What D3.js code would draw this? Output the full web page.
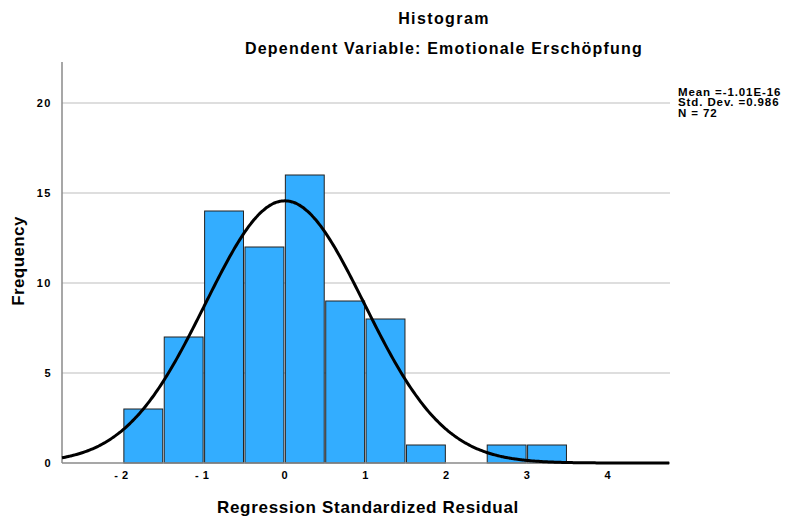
<!DOCTYPE html>
<html><head><meta charset="utf-8">
<script src="https://cdn.jsdelivr.net/npm/d3@7"></script>
<style>body{margin:0;background:#fff}text{font-family:"Liberation Sans",Arial,sans-serif;font-weight:bold;fill:#000}</style>
</head><body><svg id="c" width="785" height="521"></svg>
<script>
const binStarts = [-2, -1.5, -1, -0.5, 0, 0.5, 1, 1.5, 2, 2.5, 3];
const counts = [3, 7, 14, 12, 16, 9, 8, 1, 0, 1, 1];
const binWidth = 0.5;
const xTicks = [-2, -1, 0, 1, 2, 3, 4];
const yTicks = [0, 5, 10, 15, 20];
const stats = {mean: -1.01e-16, sd: 0.986, n: 72};
const legendLines = ["Mean =-1.01E-16", "Std. Dev. =0.986", "N = 72"];

const svg = d3.select("#c");
const L = 62, R = 670, T = 62, B = 463;
const x = d3.scaleLinear().domain([-2.76, 4.77]).range([L, R]);
const y = d3.scaleLinear().domain([0, 20]).range([B, 103]);

// grid
svg.append("g").selectAll("line").data(yTicks.filter(d => d > 0)).join("line")
  .attr("x1", L).attr("x2", R).attr("y1", d => y(d)).attr("y2", d => y(d))
  .attr("stroke", "#bdbdbd").attr("stroke-width", 1);

// bars
svg.append("g").selectAll("rect").data(binStarts.map((s, i) => ({s, c: counts[i]})).filter(d => d.c > 0)).join("rect")
  .attr("x", d => x(d.s) + 0.5).attr("width", d => x(d.s + binWidth) - x(d.s) - 1.5)
  .attr("y", d => y(d.c)).attr("height", d => y(0) - y(d.c))
  .attr("fill", "#33adff").attr("stroke", "#222").attr("stroke-width", 1);

// axes lines
svg.append("line").attr("x1", L).attr("x2", L).attr("y1", T).attr("y2", B).attr("stroke", "#8a8a8a").attr("stroke-width", 1.5);
svg.append("line").attr("x1", L).attr("x2", R).attr("y1", B).attr("y2", B).attr("stroke", "#8a8a8a").attr("stroke-width", 1.5);

// normal curve
const scaleF = stats.n * binWidth / (stats.sd * Math.sqrt(2 * Math.PI));
const xs = d3.range(-2.76, 4.77, 0.02);
const line = d3.line().x(d => x(d)).y(d => y(scaleF * Math.exp(-0.5 * Math.pow((d - stats.mean) / stats.sd, 2)))).curve(d3.curveBasis);
svg.append("path").datum(xs).attr("d", line).attr("fill", "none").attr("stroke", "#000").attr("stroke-width", 3);

// tick labels
svg.append("g").selectAll("text").data(yTicks).join("text")
  .attr("x", 52).attr("y", d => y(d) + 4).attr("text-anchor", "end")
  .attr("font-size", 11).attr("letter-spacing", 1.5).text(d => d);
svg.append("g").selectAll("text").data(xTicks).join("text")
  .attr("x", d => x(d) + (d < 0 ? -2 : 0)).attr("y", 479).attr("text-anchor", "middle")
  .attr("font-size", 11).attr("letter-spacing", 0.5).text(d => d < 0 ? "- " + Math.abs(d) : d);

// titles
svg.append("text").attr("x", 444).attr("y", 24).attr("text-anchor", "middle").attr("font-size", 16).attr("letter-spacing", 1.4).text("Histogram");
svg.append("text").attr("x", 444).attr("y", 54).attr("text-anchor", "middle").attr("font-size", 16).attr("letter-spacing", 1.2).text("Dependent Variable: Emotionale Erschöpfung");
svg.append("text").attr("x", 368).attr("y", 513).attr("text-anchor", "middle").attr("font-size", 17).attr("letter-spacing", 0.7).text("Regression Standardized Residual");
svg.append("text").attr("transform", "translate(24,261) rotate(-90)").attr("text-anchor", "middle").attr("font-size", 17).attr("letter-spacing", 0.4).text("Frequency");

// legend
svg.append("g").selectAll("text").data(legendLines).join("text")
  .attr("x", 678).attr("y", (d, i) => 95.5 + i * 10.5).attr("font-size", 11.5).attr("letter-spacing", 0.9).text(d => d);
</script></body></html>
